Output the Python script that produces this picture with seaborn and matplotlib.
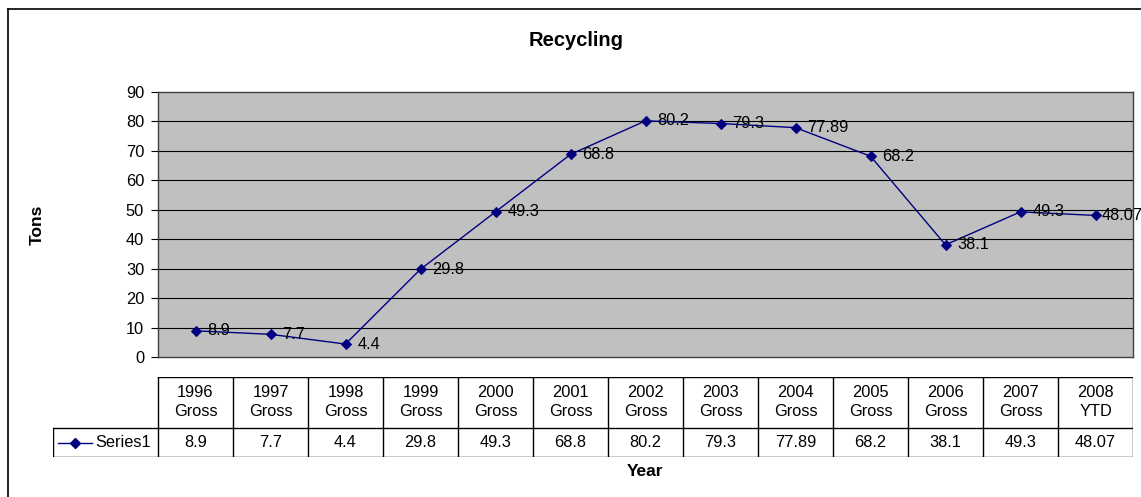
import numpy as np
import pandas as pd
import matplotlib
matplotlib.use('Agg')
import matplotlib.pyplot as plt
from matplotlib.lines import Line2D
import seaborn as sns

###################################################################################
# Data

years = ['1996', '1997', '1998', '1999', '2000', '2001', '2002',
         '2003', '2004', '2005', '2006', '2007', '2008']
kinds = ['Gross'] * 12 + ['YTD']
tons = [8.9, 7.7, 4.4, 29.8, 49.3, 68.8, 80.2, 79.3, 77.89, 68.2, 38.1, 49.3, 48.07]
value_text = ['8.9', '7.7', '4.4', '29.8', '49.3', '68.8', '80.2',
              '79.3', '77.89', '68.2', '38.1', '49.3', '48.07']
series_name = 'Series1'

df = pd.DataFrame({'pos': np.arange(len(years)), 'tons': tons})

###################################################################################
# Figure

plt.rcParams['font.family'] = ['Liberation Sans', 'DejaVu Sans']
W, H = 1141, 497
fig = plt.figure(figsize=(W / 100, H / 100), dpi=100)
navy = '#000080'
fs = 11.8

def px(x0, y0, x1, y1):
    return [x0 / W, 1 - y1 / H, (x1 - x0) / W, (y1 - y0) / H]

# outer frame (only left and top visible)
fig.add_artist(Line2D([8 / W, 8 / W], [0, 1 - 9 / H], color='black', lw=1.2))
fig.add_artist(Line2D([8 / W, 1], [1 - 9 / H, 1 - 9 / H], color='black', lw=1.2))

ax = fig.add_axes(px(158, 92, 1133, 357))
ax.set_facecolor('#c0c0c0')
sns.lineplot(data=df, x='pos', y='tons', color=navy, marker='D', markersize=5.5,
             markeredgecolor=navy, lw=1, ax=ax)
for i, v in enumerate(tons):
    # the last label sits closer to its point, as Excel squeezed it in
    off = 4.3 if i == len(tons) - 1 else 8.5
    ax.annotate(value_text[i], (i, v), xytext=(off, 0), textcoords='offset points',
                va='center', ha='left', fontsize=fs, annotation_clip=False, clip_on=False)

ax.set_xlim(-0.5, len(years) - 0.5)
ax.set_ylim(0, 90)
ax.set_yticks(range(0, 91, 10))
ax.set_xticks([])
ax.set_xlabel('')
ax.set_ylabel('')
ax.tick_params(axis='y', direction='out', length=5, labelsize=fs, pad=5)
for yv in range(10, 90, 10):
    ax.axhline(yv, color='black', lw=0.8, zorder=0.5)
for s in ax.spines.values():
    s.set_linewidth(1)
    s.set_color('#404040')

fig.text(576 / W, 1 - 40 / H, 'Recycling', ha='center', va='center',
         fontsize=14.5, fontweight='bold')
fig.text(37 / W, 1 - 225 / H, 'Tons', ha='center', va='center', rotation=90,
         fontsize=12.5, fontweight='bold')
fig.text(645 / W, 1 - 471 / H, 'Year', ha='center', va='center',
         fontsize=12.5, fontweight='bold')

###################################################################################
# Data table

tax = fig.add_axes(px(53, 377, 1133, 457))
n = len(years)
left = -0.5 - 105 / 75
tax.set_xlim(left, n - 0.5)
tax.set_ylim(0, 80)
tax.axis('off')
lc = dict(color='black', lw=1)
tax.plot([-0.5, n - 0.5], [80, 80], **lc)
tax.plot([left, n - 0.5], [29, 29], **lc)
tax.plot([left, n - 0.5], [0, 0], **lc)
for k in range(n + 1):
    tax.plot([k - 0.5, k - 0.5], [0, 80], **lc)
tax.plot([left, left], [0, 29], **lc)
for i in range(n):
    tax.text(i, 55, years[i] + '\n' + kinds[i], ha='center', va='center',
             fontsize=fs, linespacing=1.38)
    tax.text(i, 14.5, value_text[i], ha='center', va='center', fontsize=fs)
# legend key
tax.plot([left + 0.07, left + 0.52], [14.5, 14.5], color=navy, lw=1)
tax.plot([left + 0.29], [14.5], marker='D', color=navy, markersize=5.5)
tax.text(left + 0.57, 14.5, series_name, ha='left', va='center', fontsize=fs)

fig.savefig('out.png', dpi=100)
